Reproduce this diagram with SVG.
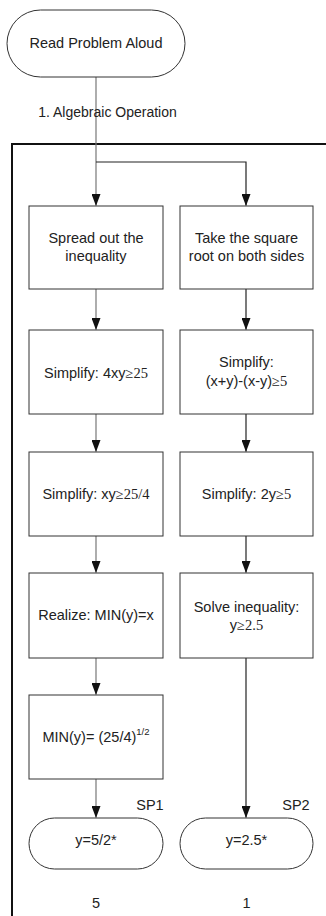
<svg xmlns="http://www.w3.org/2000/svg" width="326" height="916" viewBox="0 0 326 916">
<style>
.t{font-family:"Liberation Sans",Arial,sans-serif;font-size:14.5px;fill:#222;text-anchor:middle}
.s{font-family:"Liberation Serif","Times New Roman",serif}
.box{fill:#fff;stroke:#333;stroke-width:1}
.g{stroke:#777;stroke-width:1.2;fill:none}
.k{stroke:#222;stroke-width:1.2;fill:none}
</style>
<defs>
<marker id="ah" markerWidth="12" markerHeight="9" refX="11.5" refY="4.5" orient="auto" markerUnits="userSpaceOnUse" viewBox="0 0 12 9">
<path d="M0,0 L12,4.5 L0,9 Z" fill="#111"/>
</marker>
</defs>
<rect width="326" height="916" fill="#fff"/>
<g id="frame">
<path d="M12,916 L12,144 L326,144" fill="none" stroke="#111" stroke-width="2"/>
</g>
<g id="connectors">
<path class="g" d="M96,77 L96,205.5" marker-end="url(#ah)"/>
<path class="k" d="M96,162 L246,162 L246,205.5" marker-end="url(#ah)"/>
<path class="g" d="M96,289 L96,329.5" marker-end="url(#ah)"/>
<path class="g" d="M96,414 L96,451.5" marker-end="url(#ah)"/>
<path class="g" d="M96,536 L96,572.5" marker-end="url(#ah)"/>
<path class="g" d="M96,658 L96,694.5" marker-end="url(#ah)"/>
<path class="g" d="M96,779 L96,817.5" marker-end="url(#ah)"/>
<path class="k" d="M246,289 L246,329.5" marker-end="url(#ah)"/>
<path class="k" d="M246,414 L246,451.5" marker-end="url(#ah)"/>
<path class="k" d="M246,536 L246,572.5" marker-end="url(#ah)"/>
<path class="k" d="M246,658 L246,817.5" marker-end="url(#ah)"/>
</g>
<g id="start">
<rect class="box" x="7" y="10" width="178" height="67" rx="33.5" ry="33.5"/>
<text class="t" x="96" y="48">Read Problem Aloud</text>
</g>
<g id="label1">
<text class="t" x="107.5" y="117" style="font-size:14px">1. Algebraic Operation</text>
</g>
<g id="L1">
<rect class="box" x="29" y="206" width="134" height="83"/>
<text class="t" x="96" y="243">Spread out the</text>
<text class="t" x="96" y="261">inequality</text>
</g>
<g id="L2">
<rect class="box" x="29" y="330" width="134" height="84"/>
<text class="t" x="96" y="378">Simplify: 4xy<tspan class="s">≥25</tspan></text>
</g>
<g id="L3">
<rect class="box" x="29" y="452" width="134" height="84"/>
<text class="t" x="96" y="499">Simplify: xy<tspan class="s">≥25/4</tspan></text>
</g>
<g id="L4">
<rect class="box" x="29" y="573" width="134" height="85"/>
<text class="t" x="96" y="620">Realize: MIN(y)=x</text>
</g>
<g id="L5">
<rect class="box" x="29" y="695" width="134" height="84"/>
<text class="t" x="96" y="742">MIN(y)= (25/4)<tspan dy="-7" style="font-size:9.5px">1/2</tspan></text>
</g>
<g id="SP1">
<rect class="box" x="29" y="818" width="134" height="51" rx="25.5" ry="25.5"/>
<text class="t" x="96" y="845">y=5/2*</text>
<text class="t" x="150" y="810">SP1</text>
<text class="t" x="96" y="908">5</text>
</g>
<g id="R1">
<rect class="box" x="180" y="206" width="133" height="83"/>
<text class="t" x="246.5" y="243">Take the square</text>
<text class="t" x="246.5" y="261">root on both sides</text>
</g>
<g id="R2">
<rect class="box" x="180" y="330" width="133" height="84"/>
<text class="t" x="246.5" y="367">Simplify:</text>
<text class="t" x="246.5" y="386">(x+y)-(x-y)<tspan class="s">≥5</tspan></text>
</g>
<g id="R3">
<rect class="box" x="180" y="452" width="133" height="84"/>
<text class="t" x="246.5" y="499">Simplify: 2y<tspan class="s">≥5</tspan></text>
</g>
<g id="R4">
<rect class="box" x="180" y="573" width="133" height="85"/>
<text class="t" x="246.5" y="612">Solve inequality:</text>
<text class="t" x="246.5" y="630">y<tspan class="s">≥2.5</tspan></text>
</g>
<g id="SP2">
<rect class="box" x="180" y="818" width="133" height="51" rx="25.5" ry="25.5"/>
<text class="t" x="246.5" y="845">y=2.5*</text>
<text class="t" x="296" y="810">SP2</text>
<text class="t" x="246.5" y="908">1</text>
</g>
</svg>
